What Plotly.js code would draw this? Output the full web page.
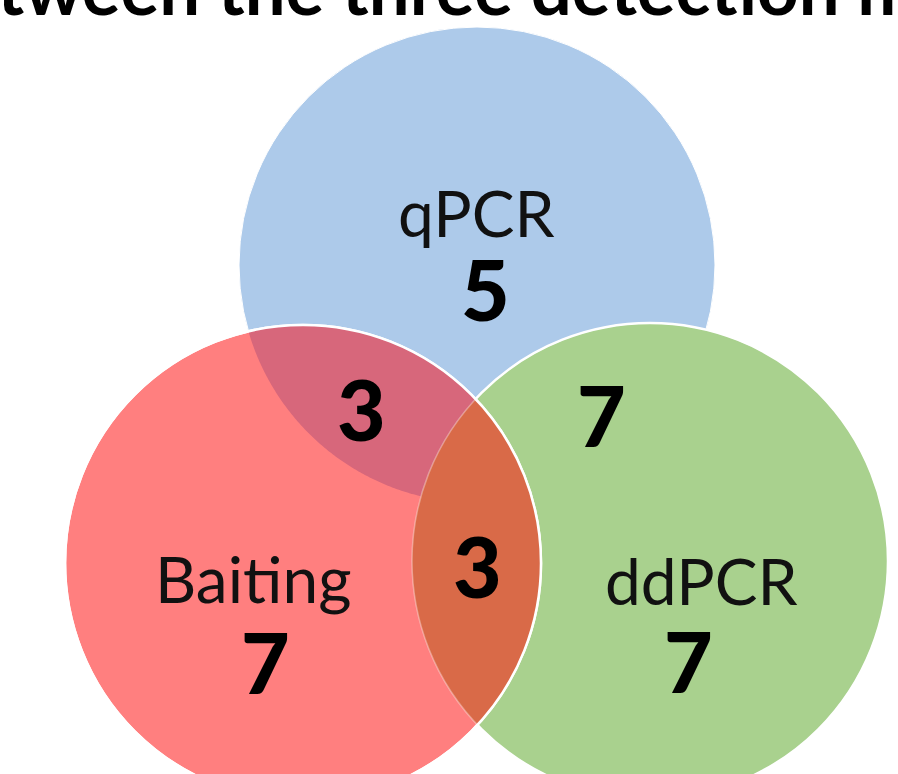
<!DOCTYPE html>
<html>
<head>
<meta charset="utf-8">
<script src="https://cdn.plot.ly/plotly-3.0.1.min.js"></script>
<style>
html,body{margin:0;padding:0;background:#ffffff;overflow:hidden;}
#chart{width:898px;height:774px;}
</style>
</head>
<body>
<div id="chart"></div>
<script>
// ---------- data ----------
const titleText = 'Overlap between the three detection methods';
const setNames = ['qPCR', 'Baiting', 'ddPCR'];
const uniqueCounts = [5, 7, 7];
const pairNames = ['qPCR & Baiting', 'qPCR & ddPCR', 'Baiting & ddPCR'];
const pairCounts = [3, 7, 3];

// ---------- geometry / style (layout only) ----------
const W = 898, H = 774;
const circleCenters = [[477, 265], [303, 563], [650, 561]];   // qPCR, Baiting, ddPCR
const circleRadius = 238;
const setColors = ['#ADCAEA', '#FF7F7F', '#A9D18E'];
const pairFill = { '0-1': '#D7677B', '1-2': '#D96A48' };
const nameAt = [[476, 212], [253, 578], [701, 580]];
const uniqueAt = [[485, 288], [265, 661], [688, 660]];
const pairAt = [[361, 408], [601, 414], [477, 565]];
const FONT = 'Lato, "Open Sans", sans-serif';

function circleShape(i, fill, line) {
  const [cx, cy] = circleCenters[i];
  return {
    type: 'circle', xref: 'x', yref: 'y', layer: 'above',
    x0: cx - circleRadius, x1: cx + circleRadius,
    y0: cy - circleRadius, y1: cy + circleRadius,
    fillcolor: fill, line: line
  };
}

function lensPath(i, j, n) {
  const c1 = circleCenters[i], c2 = circleCenters[j];
  const r1 = circleRadius, r2 = circleRadius;
  const dx = c2[0] - c1[0], dy = c2[1] - c1[1], d = Math.hypot(dx, dy);
  const b1 = Math.atan2(dy, dx), b2 = Math.atan2(-dy, -dx);
  const h1 = Math.acos((d * d + r1 * r1 - r2 * r2) / (2 * d * r1));
  const h2 = Math.acos((d * d + r2 * r2 - r1 * r1) / (2 * d * r2));
  const pts = [];
  for (let k = 0; k <= n; k++) {
    const a = b1 - h1 + 2 * h1 * k / n;
    pts.push([c1[0] + r1 * Math.cos(a), c1[1] + r1 * Math.sin(a)]);
  }
  for (let k = 0; k <= n; k++) {
    const a = b2 - h2 + 2 * h2 * k / n;
    pts.push([c2[0] + r2 * Math.cos(a), c2[1] + r2 * Math.sin(a)]);
  }
  return 'M' + pts.map(p => p[0].toFixed(2) + ',' + p[1].toFixed(2)).join('L') + 'Z';
}

const shapes = [];
// base circles: qPCR, ddPCR, Baiting
shapes.push(circleShape(0, setColors[0], { color: '#ffffff', width: 1 }));
shapes.push(circleShape(2, setColors[2], { color: '#ffffff', width: 2.5 }));
shapes.push(circleShape(1, setColors[1], { color: '#ffffff', width: 2.5 }));
// overlap lenses
shapes.push({ type: 'path', xref: 'x', yref: 'y', layer: 'above', path: lensPath(1, 0, 200),
  fillcolor: pairFill['0-1'], line: { width: 0 } });
shapes.push({ type: 'path', xref: 'x', yref: 'y', layer: 'above', path: lensPath(1, 2, 200),
  fillcolor: pairFill['1-2'], line: { width: 0 } });
// outlines on top
shapes.push(circleShape(2, 'rgba(0,0,0,0)', { color: 'rgba(255,255,255,0.35)', width: 1.5 }));
shapes.push(circleShape(1, 'rgba(0,0,0,0)', { color: '#ffffff', width: 2.5 }));

const annotations = [];
setNames.forEach((nm, i) => {
  annotations.push({ x: nameAt[i][0], y: nameAt[i][1], xref: 'x', yref: 'y', text: nm,
    showarrow: false, xanchor: 'center', yanchor: 'middle',
    font: { family: FONT, size: 64, color: '#111111' } });
  annotations.push({ x: uniqueAt[i][0], y: uniqueAt[i][1], xref: 'x', yref: 'y', text: String(uniqueCounts[i]),
    showarrow: false, xanchor: 'center', yanchor: 'middle',
    font: { family: FONT, size: 84, weight: 900, color: '#000000' } });
});
pairCounts.forEach((v, i) => {
  annotations.push({ x: pairAt[i][0], y: pairAt[i][1], xref: 'x', yref: 'y', text: String(v),
    hovertext: pairNames[i],
    showarrow: false, xanchor: 'center', yanchor: 'middle',
    font: { family: FONT, size: 84, weight: 900, color: '#000000' } });
});

// title: measure so that the visible part lines up with the reference crop
const ctx = document.createElement('canvas').getContext('2d');
function tw(t, size) { ctx.font = '700 ' + size + 'px Lato'; return ctx.measureText(t).width; }
const visibleStart = titleText.indexOf('tween');
const visibleRun = titleText.substring(visibleStart, titleText.indexOf('methods'));
const titleSize = 100 * 860 / tw(visibleRun, 100);
const titleXpx = -3 - tw(titleText.substring(0, visibleStart), titleSize);
const titleBottomPx = 14 + 0.23 * titleSize;
annotations.push({ x: titleXpx / W, y: 1 - titleBottomPx / H, xref: 'paper', yref: 'paper', text: titleText,
  showarrow: false, xanchor: 'left', yanchor: 'bottom', borderpad: 0,
  font: { family: FONT, size: titleSize, weight: 700, color: '#000000' } });

const layout = {
  width: W, height: H,
  margin: { l: 0, r: 0, t: 0, b: 0, pad: 0 },
  paper_bgcolor: '#ffffff', plot_bgcolor: '#ffffff',
  showlegend: false,
  xaxis: { range: [0, W], visible: false, fixedrange: true },
  yaxis: { range: [H, 0], visible: false, fixedrange: true },
  shapes: shapes,
  annotations: annotations
};

Plotly.newPlot('chart', [], layout, { displayModeBar: false, staticPlot: true });
</script>
</body>
</html>
